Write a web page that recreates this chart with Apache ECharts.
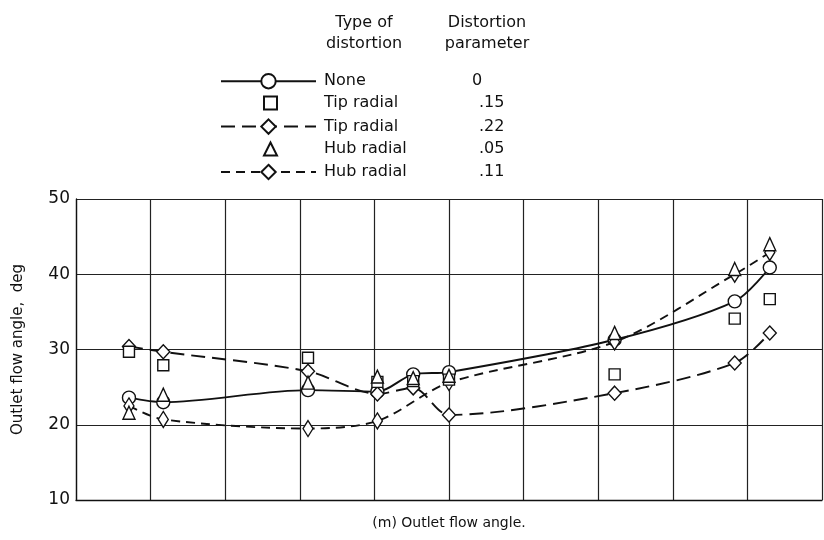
<!DOCTYPE html>
<html>
<head>
<meta charset="utf-8">
<script src="https://cdn.jsdelivr.net/npm/echarts@6/dist/echarts.min.js"></script>
<style>
  html, body { margin: 0; padding: 0; background: #fff; }
  #chart { width: 824px; height: 540px; }
</style>
</head>
<body>
<div id="chart"></div>
<script>
// Measuring stations (grid units; the x axis carries no printed scale)
const stationX = [0.71, 1.17, 3.11, 4.04, 4.52, 5.00, 7.22, 8.83, 9.30];

// Outlet flow angle, deg, for each distortion case
const angleNone  = [23.6, 23.0, 24.6, 24.4, 26.7, 27.0, 31.3, 36.4, 40.9];
const angleTip15 = [29.7, 27.9, 28.9, 25.7, 25.8, 26.0, 26.7, 34.1, 36.7];
const angleTip22 = [30.4, 29.7, 27.1, 24.1, 24.9, 21.3, 24.2, 28.2, 32.2];
const angleHub05 = [21.6, 24.0, 25.6, 26.4, 26.2, 26.5, 32.2, 40.7, 44.0];
const angleHub11 = [22.5, 20.7, 19.5, 20.5, null, 25.6, 31.0, 40.0, 42.9];

// Legend table columns
const distortionType  = ['None', 'Tip radial', 'Tip radial', 'Hub radial', 'Hub radial'];
const distortionParam = ['0', '.15', '.22', '.05', '.11'];

// Y axis range and step
const yMin = 10, yMax = 50, yStep = 10;

const FONT = "'DejaVu Sans', 'Liberation Sans', sans-serif";
const INK = '#111';

const seriesKeys = distortionType.map((t, i) => t + ' ' + distortionParam[i]);

function pairs(ys) {
  const out = [];
  stationX.forEach((x, i) => { if (ys[i] != null) out.push([x, ys[i]]); });
  return out;
}

const markerStyle = { color: '#fff', borderColor: INK, borderWidth: 1.4, opacity: 1 };

function lineSeries(idx, ys, symbol, size, dash) {
  return {
    type: 'line',
    name: seriesKeys[idx],
    data: pairs(ys),
    smooth: 0.3,
    symbol: symbol,
    symbolSize: size,
    showAllSymbol: true,
    lineStyle: { color: INK, width: 1.9, type: dash },
    itemStyle: markerStyle,
    emphasis: { disabled: true },
    z: 3
  };
}

function pointSeries(idx, ys, symbol, size) {
  return {
    type: 'scatter',
    name: seriesKeys[idx],
    data: pairs(ys),
    symbol: symbol,
    symbolSize: size,
    itemStyle: markerStyle,
    emphasis: { disabled: true },
    z: 4
  };
}

function legendLabel(name) {
  const i = seriesKeys.indexOf(name);
  const nameStyle = i === 0 ? 'n0' : 'n';
  return '{' + nameStyle + '|' + distortionType[i] + '}{p|' + distortionParam[i] + '}';
}

// Legend text; the left pad lines the names up at the same column whatever the icon width
function legendText(padLeft) {
  const base = { fontFamily: FONT, fontSize: 16, color: INK };
  return {
    fontFamily: FONT,
    fontSize: 16,
    color: INK,
    rich: {
      n0: Object.assign({ width: 148, padding: [0, 0, 0, padLeft] }, base),
      n:  Object.assign({ width: 155, padding: [0, 0, 0, padLeft] }, base),
      p:  base
    }
  };
}

const chart = echarts.init(document.getElementById('chart'), null, { renderer: 'canvas' });

chart.setOption({
  animation: false,
  backgroundColor: '#fff',
  textStyle: { fontFamily: FONT },
  grid: { left: 76, right: 2, top: 199, bottom: 40 },
  xAxis: {
    type: 'value',
    min: 0, max: 10, interval: 1,
    axisLabel: { show: false },
    axisTick: { show: false },
    axisLine: { show: true, lineStyle: { color: INK, width: 1.3 } },
    splitLine: { show: true, lineStyle: { color: '#222', width: 1.2 } }
  },
  yAxis: {
    type: 'value',
    min: yMin, max: yMax, interval: yStep,
    name: 'Outlet flow angle,  deg',
    nameLocation: 'middle',
    nameGap: 50,
    nameTextStyle: { fontFamily: FONT, fontSize: 15, color: INK },
    axisLabel: { fontFamily: FONT, fontSize: 17, color: INK, margin: 6 },
    axisTick: { show: false },
    axisLine: { show: true, lineStyle: { color: INK, width: 1.3 } },
    splitLine: { show: true, lineStyle: { color: '#222', width: 1.2 } }
  },
  legend: [
    {
      data: [seriesKeys[0], seriesKeys[2], seriesKeys[4]],
      orient: 'vertical',
      left: 215, top: 68,
      itemWidth: 95, itemHeight: 18, itemGap: 29,
      selectedMode: false,
      formatter: legendLabel,
      textStyle: legendText(3)
    },
    {
      data: [seriesKeys[1], seriesKeys[3]],
      orient: 'vertical',
      left: 258, top: 90,
      itemWidth: 13, itemHeight: 13, itemGap: 30,
      selectedMode: false,
      formatter: legendLabel,
      textStyle: legendText(42)
    }
  ],
  graphic: [
    {
      type: 'text',
      style: {
        text: 'Type of\ndistortion', x: 364, y: 12, align: 'center',
        font: '16px ' + FONT, lineHeight: 21, fill: INK
      }
    },
    {
      type: 'text',
      style: {
        text: 'Distortion\nparameter', x: 487, y: 12, align: 'center',
        font: '16px ' + FONT, lineHeight: 21, fill: INK
      }
    },
    {
      type: 'text',
      style: {
        text: '(m) Outlet flow angle.', x: 449, y: 523, align: 'center', verticalAlign: 'middle',
        font: '14px ' + FONT, fill: INK
      }
    }
  ],
  series: [
    lineSeries(0, angleNone, 'circle', 13, 'solid'),
    pointSeries(1, angleTip15, 'rect', 11),
    lineSeries(2, angleTip22, 'diamond', [13, 14], [14, 7]),
    pointSeries(3, angleHub05, 'triangle', [12, 13]),
    lineSeries(4, angleHub11, 'diamond', [10, 16], [9, 6])
  ]
});
</script>
</body>
</html>
